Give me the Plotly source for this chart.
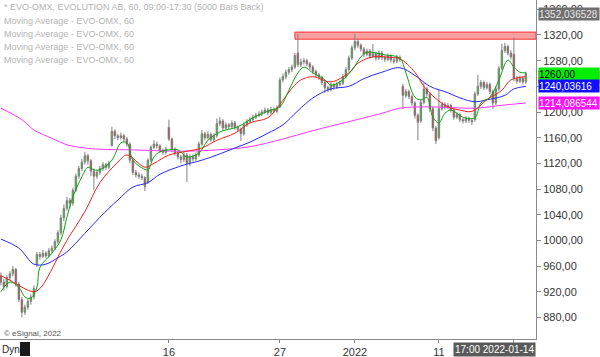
import plotly.graph_objects as go

# ---------------- data ----------------
bars = list(range(176))
opens = [945,935,928,942,948,955,932,908,888,896,
         905,912,962,978,975,980,976,984,988,998,
         1012,1035,1050,1062,1058,1078,1100,1112,1122,1132,
         1124,1108,1100,1106,1112,1118,1114,1148,1170,1163,
         1160,1163,1158,1150,1125,1106,1102,1100,1098,1090,
         1125,1145,1150,1147,1140,1137,1176,1158,1142,1136,
         1130,1126,1133,1120,1130,1127,1133,1150,1166,1160,
         1165,1157,1163,1182,1186,1175,1180,1177,1183,1176,
         1173,1166,1180,1185,1188,1192,1195,1197,1200,1203,
         1199,1204,1201,1208,1250,1255,1262,1266,1270,1292,
         1274,1278,1280,1275,1270,1263,1258,1254,1246,1238,
         1235,1242,1239,1243,1245,1255,1266,1284,1300,1310,
         1304,1298,1290,1295,1287,1291,1284,1292,1285,1282,
         1287,1281,1279,1285,1240,1226,1232,1224,1214,1195,
         1186,1215,1236,1228,1205,1175,1160,1205,1212,1208,
         1210,1203,1192,1196,1188,1186,1190,1187,1188,1228,
         1240,1246,1238,1243,1232,1214,1236,1268,1296,1302,
         1292,1290,1252,1248,1253,1247]
highs = [950,940,946,952,960,957,935,912,900,909,
         916,930,982,982,985,983,988,992,1002,1016,
         1040,1056,1068,1066,1082,1104,1116,1127,1138,1135,
         1127,1112,1110,1116,1122,1121,1124,1177,1173,1166,
         1168,1166,1161,1153,1128,1110,1106,1104,1100,1128,
         1148,1156,1154,1150,1143,1146,1188,1160,1145,1139,
         1133,1138,1136,1134,1134,1137,1154,1172,1169,1170,
         1168,1167,1190,1192,1189,1184,1183,1187,1186,1179,
         1176,1184,1189,1192,1196,1199,1201,1204,1207,1206,
         1208,1207,1210,1254,1260,1266,1270,1274,1292,1322,
         1283,1284,1283,1278,1273,1266,1261,1257,1249,1241,
         1246,1245,1247,1249,1259,1270,1288,1304,1322,1314,
         1307,1301,1299,1298,1306,1294,1296,1295,1288,1291,
         1290,1284,1289,1288,1244,1236,1235,1227,1217,1198,
         1219,1245,1239,1231,1208,1178,1234,1216,1215,1214,
         1213,1206,1200,1199,1191,1194,1193,1190,1232,1258,
         1250,1249,1247,1246,1235,1240,1272,1306,1308,1305,
         1296,1316,1256,1257,1256,1263]
lows = [930,922,925,938,944,928,904,880,884,892,
        900,908,958,970,972,972,973,980,985,994,
        1008,1030,1046,1050,1054,1075,1096,1108,1118,1118,
        1100,1078,1096,1102,1108,1110,1111,1146,1158,1156,
        1157,1154,1146,1120,1102,1098,1096,1094,1077,1088,
        1122,1142,1143,1136,1133,1134,1155,1138,1132,1126,
        1120,1122,1091,1116,1123,1124,1130,1147,1156,1157,
        1153,1154,1160,1178,1171,1172,1173,1174,1172,1169,
        1155,1163,1177,1182,1185,1189,1192,1194,1197,1195,
        1196,1198,1198,1206,1246,1251,1258,1262,1267,1270,
        1270,1274,1271,1266,1259,1254,1250,1242,1230,1231,
        1232,1235,1236,1240,1242,1252,1263,1281,1296,1300,
        1294,1286,1287,1283,1284,1280,1281,1281,1278,1279,
        1277,1275,1276,1278,1205,1222,1220,1210,1190,1156,
        1183,1212,1224,1200,1170,1150,1157,1202,1204,1205,
        1199,1188,1189,1184,1182,1183,1183,1180,1185,1225,
        1236,1234,1235,1228,1205,1211,1233,1265,1292,1288,
        1282,1248,1244,1245,1243,1244]
closes = [935,928,942,948,955,932,908,888,896,905,
          912,925,978,975,980,976,984,988,998,1012,
          1035,1050,1062,1058,1078,1100,1112,1122,1132,1124,
          1108,1100,1106,1112,1118,1114,1120,1170,1163,1160,
          1163,1158,1150,1125,1106,1102,1100,1098,1084,1125,
          1145,1150,1147,1140,1137,1142,1158,1142,1136,1130,
          1126,1133,1120,1130,1127,1133,1150,1166,1160,1165,
          1157,1163,1182,1186,1175,1180,1177,1183,1176,1173,
          1166,1180,1185,1188,1192,1195,1197,1200,1203,1199,
          1204,1201,1206,1250,1255,1262,1266,1270,1288,1274,
          1278,1280,1275,1270,1263,1258,1254,1246,1238,1235,
          1242,1239,1243,1245,1255,1266,1284,1300,1310,1304,
          1298,1290,1295,1287,1291,1284,1292,1285,1282,1287,
          1281,1279,1285,1282,1226,1232,1224,1214,1195,1184,
          1215,1236,1228,1205,1175,1155,1205,1212,1208,1210,
          1203,1192,1196,1188,1186,1190,1187,1185,1228,1240,
          1246,1238,1243,1232,1214,1236,1268,1296,1302,1292,
          1286,1252,1248,1253,1247,1260]

# moving averages, sampled along the bars
ma_green_x = [0,3,6,8,10,12,13,17,20,22,24,27,29,31,33,37,40,42,44,47,49,51,53,56,59,62,66,69,
              73,79,84,90,93,96,99,101,104,108,110,113,117,120,122,128,133,135,138,140,142,144,
              146,148,150,154,158,160,163,166,169,171,173,175]
ma_green_y = [920,935,927,912,910,927,958,980,1001,1036,1068,1099,1114,1110,1110,1125,1152,1152,
              1125,1113,1110,1130,1138,1141,1141,1130,1136,1156,1169,1177,1191,1203,1208,1234,1261,
              1270,1261,1250,1242,1247,1265,1286,1293,1289,1284,1261,1223,1219,1223,1192,1183,1198,
              1203,1192,1191,1214,1223,1250,1281,1270,1262,1261]
ma_red_x = [0,3,7,11,13,17,19,22,28,33,39,42,48,51,56,61,67,72,78,83,89,93,97,100,104,110,116,
            119,124,130,133,138,141,144,149,153,157,162,167,170,175]
ma_red_y = [945,938,927,920,925,955,974,1000,1045,1090,1122,1133,1114,1120,1133,1138,1144,1156,
            1167,1183,1191,1212,1237,1250,1255,1247,1261,1276,1286,1285,1283,1262,1240,1225,1208,
            1203,1201,1219,1234,1250,1255]
ma_blue_x = [0,6,11,15,19,22,28,33,39,44,49,53,60,67,72,78,83,89,94,99,104,110,116,121,127,133,
             138,143,149,153,158,162,168,171,175]
ma_blue_y = [1002,988,963,963,973,982,1011,1036,1063,1083,1090,1103,1116,1125,1133,1144,1153,1167,
             1180,1202,1222,1236,1240,1252,1262,1269,1257,1240,1230,1222,1216,1219,1226,1236,1240]
ma_mag_x = [0,7,11,17,22,28,33,44,60,72,83,94,104,116,127,133,143,158,168,175]
ma_mag_y = [1206,1188,1172,1159,1149,1144,1142,1141,1139,1141,1146,1158,1171,1185,1198,1206,1208,
            1206,1211,1214]

resist_start = 98
resist_low, resist_high = 1313.5, 1324.5

y_ticks = [880, 920, 960, 1000, 1040, 1080, 1120, 1160, 1200, 1240, 1280, 1320, 1360]
y_tick_text = ["880,00", "920,00", "960,00", "1000,00", "1040,00", "1080,00", "1120,00",
               "1160,00", "1200,00", "1240,00", "1280,00", "1320,00", "1360,00"]
x_ticks = [56, 93, 118, 146, 171]
x_tick_text = ["16", "27", "2022", "11", ""]

price_labels = [1352.036528, 1254.6, 1260.0, 1240.03616, 1214.086544]
price_texts = ["1352,036528", "1254,612880", "1260,00", "1240,03616", "1214,086544"]
price_bg = ["#6f6f6f", "#ff1010", "#00ee00", "#1010ff", "#ff10ff"]
price_fg = ["#e8e8e8", "#ffffff", "#000000", "#ffffff", "#ffffff"]

legend_lines = ["* EVO-OMX, EVOLUTION AB, 60, 09:00-17:30 (5000 Bars Back)",
                "Moving Average - EVO-OMX, 60", "Moving Average - EVO-OMX, 60",
                "Moving Average - EVO-OMX, 60", "Moving Average - EVO-OMX, 60"]

# ---------------- figure ----------------
W, H = 600, 357
ML, MR, MT, MB = 0, 64, 0, 18
PH = H - MT - MB
PW = W - ML - MR
FONT = "Liberation Sans, Arial, sans-serif"

fig = go.Figure()
fig.add_trace(go.Candlestick(
    x=bars, open=opens, high=highs, low=lows, close=closes,
    increasing=dict(fillcolor="#00dd00", line=dict(color="#808080", width=1)),
    decreasing=dict(fillcolor="#dd0000", line=dict(color="#808080", width=1)),
    whiskerwidth=0, hoverinfo="skip", showlegend=False))

for xs, ys, col in [(ma_mag_x, ma_mag_y, "#ff33ff"), (ma_blue_x, ma_blue_y, "#2828ff"),
                    (ma_red_x, ma_red_y, "#f02020"), (ma_green_x, ma_green_y, "#10a010")]:
    fig.add_trace(go.Scatter(x=xs, y=ys, mode="lines", line=dict(color=col, width=1),
                             line_shape="spline", hoverinfo="skip", showlegend=False))

xr = [-0.3, -0.3 + PW / 3.0]
yr = [846.4, 1374.5]

fig.add_shape(type="rect", xref="x", yref="y", x0=resist_start, x1=xr[1],
              y0=resist_low, y1=resist_high, fillcolor="rgba(250,130,130,0.75)",
              line=dict(color="#ff3030", width=1), layer="below")

anns = []
for i, t in enumerate(legend_lines):
    yc = [7, 21, 34, 47, 60][i]
    anns.append(dict(xref="paper", yref="paper", x=0.004, y=1 - yc / PH, xanchor="left",
                     yanchor="middle", text=t, showarrow=False,
                     font=dict(family=FONT, size=9, color="#b4b4b4")))
for v, t, bg, fg in zip(price_labels, price_texts, price_bg, price_fg):
    anns.append(dict(xref="paper", yref="y", x=1, y=v, xanchor="left", yanchor="middle",
                     xshift=2, text=t, showarrow=False, bgcolor=bg, width=60, height=12,
                     align="left", borderpad=0,
                     font=dict(family=FONT, size=10, color=fg)))
anns.append(dict(xref="paper", yref="paper", x=0.003, y=1 - 333 / PH, xanchor="left",
                 yanchor="middle", text="© eSignal, 2022", showarrow=False,
                 font=dict(family=FONT, size=8, color="#555555")))
anns.append(dict(xref="paper", yref="paper", x=0, y=1 - 349 / PH, xanchor="left",
                 yanchor="middle", text="Dyn", showarrow=False,
                 font=dict(family=FONT, size=10, color="#222222")))
anns.append(dict(xref="paper", yref="paper", x=1, y=1 - 349.5 / PH, xanchor="right",
                 yanchor="middle", text="17:00 2022-01-14", showarrow=False,
                 bgcolor="#5a5a5a", borderpad=1,
                 font=dict(family=FONT, size=10, color="#ffffff")))

fig.add_shape(type="rect", xref="paper", yref="paper", x0=20 / PW, x1=30 / PW,
              y0=1 - 356 / PH, y1=1 - 342 / PH, fillcolor="#1a1a1a",
              line=dict(color="#1a1a1a", width=0))

fig.update_layout(
    width=W, height=H, margin=dict(l=ML, r=MR, t=MT, b=MB),
    paper_bgcolor="white", plot_bgcolor="white",
    showlegend=False, annotations=anns,
    xaxis=dict(range=xr, rangeslider=dict(visible=False), showgrid=False, zeroline=False,
               showline=True, linecolor="#8a8a8a", linewidth=1, ticks="outside", ticklen=3,
               tickcolor="#8a8a8a", tickvals=x_ticks, ticktext=x_tick_text,
               tickfont=dict(family=FONT, size=11, color="#333333")),
    yaxis=dict(range=yr, side="right", showgrid=False, zeroline=False, showline=True,
               linecolor="#8a8a8a", linewidth=1, ticks="outside", ticklen=4,
               tickcolor="#8a8a8a", tickvals=y_ticks, ticktext=y_tick_text,
               tickfont=dict(family=FONT, size=11, color="#333333")),
)

fig.write_html("out.html")
